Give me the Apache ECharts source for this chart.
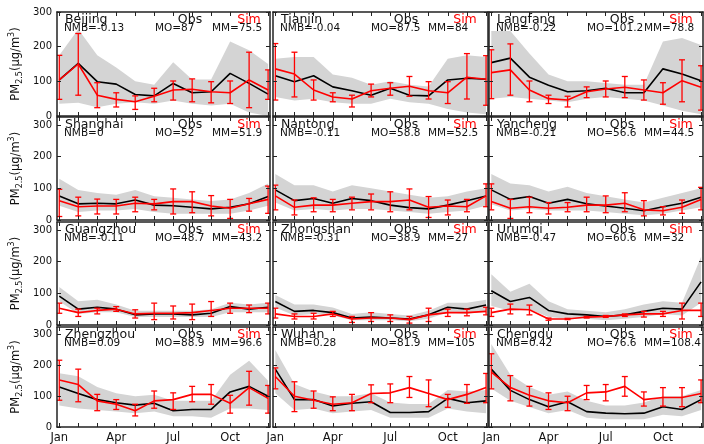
<!DOCTYPE html>
<html><head><meta charset="utf-8">
<script src="https://cdn.jsdelivr.net/npm/echarts@6/dist/echarts.min.js"></script>
<style>html,body{margin:0;padding:0;background:#fff}#c{width:704px;height:444px}</style>
</head><body><div id="c"></div>
<script>
// ---------------- data ----------------
const cities = ['Beijing','Tianjin','Langfang','Shanghai','Nantong','Yancheng','Guangzhou','Zhongshan','Urumqi','Zhengzhou','Wuhan','Chengdu'];
const nmbText = ['-0.13','-0.04','-0.22','0','-0.11','-0.21','-0.11','-0.31','-0.47','0.09','0.28','0.42'];
const moText = ['87','87.5','101.2','52','58.8','56.6','48.7','38.9','60.6','88.9','81.9','76.6'];
const mmText = ['75.5','84','78.8','51.9','52.5','44.5','43.2','27','32','96.6','105','108.4'];
const monthIndex = [0,1,2,3,4,5,6,7,8,9,10,11];
const monthTickLabels = {0:'Jan',3:'Apr',6:'Jul',9:'Oct'};
const yTickValues = [0,100,200,300];

const obsMean = [
 [104,152,99,92,62,58,94,67,70,123,94,63],
 [116,99,116,84,73,60,80,60,58,104,109,106],
 [154,167,112,89,70,73,80,67,67,136,121,102],
 [76,51,53,51,63,47,45,40,35,40,51,74],
 [95,61,68,53,68,61,47,39,35,47,61,76],
 [95,65,74,53,65,51,44,37,29,42,53,72],
 [91,50,56,50,32,35,35,32,37,58,50,56],
 [74,43,46,39,22,25,22,19,32,56,50,63],
 [108,74,87,46,35,32,27,32,43,53,50,136],
 [130,109,89,79,71,77,53,57,57,114,132,100],
 [188,89,89,68,77,82,47,47,50,93,79,85],
 [188,119,89,66,82,50,45,43,45,66,57,89]
];
const obsUpper = [
 [175,250,175,140,100,90,155,105,105,215,190,150],
 [165,170,170,120,110,90,100,90,85,165,175,170],
 [245,245,180,120,100,100,95,90,90,215,225,205],
 [130,95,85,80,95,75,70,65,60,65,85,115],
 [145,110,110,90,110,100,90,80,70,75,90,100],
 [145,115,110,90,105,85,75,65,55,70,85,100],
 [120,75,80,65,45,45,45,45,50,70,65,70],
 [95,65,65,55,35,40,35,30,45,70,70,80],
 [160,105,130,75,50,45,40,50,65,75,70,215],
 [175,165,130,110,100,105,85,85,85,170,215,150],
 [250,140,115,100,100,110,80,75,75,120,115,120],
 [270,170,130,105,115,85,70,70,80,100,100,120]
];
const obsLower = [
 [35,38,25,35,40,35,45,35,30,35,10,0],
 [55,45,50,40,35,35,50,40,35,20,10,5],
 [50,55,50,45,40,50,55,50,45,30,15,5],
 [45,25,30,30,35,25,20,20,20,20,30,45],
 [55,30,35,30,35,35,30,25,20,25,30,45],
 [50,30,35,30,30,30,25,20,15,20,30,40],
 [75,35,40,40,25,25,25,25,25,40,40,40],
 [55,30,35,30,15,15,15,12,20,40,35,45],
 [60,45,50,25,20,20,15,20,25,35,30,70],
 [70,60,55,50,45,50,35,35,30,60,60,55],
 [110,55,60,45,50,55,30,30,30,60,50,45],
 [125,85,65,45,55,30,25,25,25,40,35,55]
];
const simMean = [
 [104,150,60,48,41,57,75,77,70,67,104,75],
 [136,121,75,55,49,73,80,86,73,67,112,106],
 [125,133,75,50,46,70,78,83,75,67,102,83],
 [61,42,44,44,53,51,58,58,44,37,51,65],
 [76,40,47,47,53,58,58,63,40,44,42,76],
 [58,37,42,37,40,47,47,53,32,29,40,65],
 [53,39,46,50,35,37,37,39,46,53,53,53],
 [35,27,27,35,19,22,22,17,32,39,39,43],
 [39,50,48,19,19,25,27,32,35,35,46,46],
 [153,138,85,74,53,85,89,106,106,77,128,93],
 [164,100,87,74,79,109,111,128,109,89,106,128],
 [178,128,103,85,79,111,114,132,89,96,96,109]
];
const simHigh = [
 [175,238,96,67,58,80,101,107,99,101,184,133],
 [209,184,104,67,60,92,96,114,99,99,180,174],
 [191,208,101,60,57,84,101,114,104,96,162,145],
 [97,72,66,65,72,65,98,89,77,65,68,107],
 [110,63,70,65,72,82,89,98,74,63,65,114],
 [114,65,72,55,55,72,76,86,61,42,63,103],
 [69,50,53,58,48,69,60,66,74,69,63,69],
 [53,35,37,43,27,39,32,27,53,50,50,56],
 [53,66,63,22,21,27,30,35,43,43,69,69],
 [217,188,106,89,74,117,111,132,138,103,181,135],
 [192,147,117,98,106,137,140,164,153,106,138,174],
 [238,167,132,111,100,135,138,164,114,128,128,153]
];
const simLow = [
 [48,60,24,26,19,41,46,41,38,36,24,48],
 [46,55,46,41,26,55,60,57,49,36,49,31],
 [50,60,41,36,26,53,55,53,46,34,41,17],
 [11,13,19,19,26,32,19,23,13,5,28,21],
 [32,16,26,26,32,32,26,32,8,16,26,42],
 [32,5,23,19,26,26,23,26,13,16,21,32],
 [37,27,35,43,22,17,19,17,27,37,39,35],
 [22,19,19,27,8,11,11,6,11,27,29,32],
 [27,35,32,15,17,22,24,27,25,27,19,27],
 [87,82,53,57,36,61,57,82,74,45,71,45],
 [124,50,61,53,53,79,79,96,66,64,77,79],
 [124,85,68,57,53,89,85,100,68,68,66,79]
];

// ---------------- layout ----------------
const FONT = 'DejaVu Sans';
const colLeft = [57,273,489], colWidth = [213,215,214];
const rowTop = [12,117,222,327], rowHeight = [104,103,103,102], rowMax = [300,325,325,325];
const RED = '#ff0000';
const AX = '#222';

const grid = [], xAxis = [], yAxis = [], series = [], graphic = [];
const pairs = arr => monthIndex.map((m,k) => [m, arr[k]]);

function bandRender(params, api) {
  if (params.dataIndexInside !== 0) return null;
  const n = params.dataInsideLength;
  const top = [], bot = [];
  for (let j = 0; j < n; j++) {
    const x = api.value(0, j);
    bot.push(api.coord([x, api.value(1, j)]));
    top.push(api.coord([x, api.value(2, j)]));
  }
  return {type:'polygon', shape:{points: bot.concat(top.reverse())}, style:{fill:'#d4d4d4', stroke:null}};
}

for (let i = 0; i < cities.length; i++) {
  const r = Math.floor(i/3), c = i%3;
  const L = colLeft[c], T = rowTop[r];
  grid.push({left:L, top:T, width:colWidth[c], height:rowHeight[r], containLabel:false});
  const xCommon = {gridIndex:i, type:'value', min:-0.12, max:11.1, z:10,
    splitLine:{show:false},
    axisLine:{show:true, onZero:false, lineStyle:{color:AX, width:1.5}},
    axisTick:{show:true, inside:true, length:4, customValues:monthIndex, lineStyle:{color:AX, width:1}}};
  xAxis.push(Object.assign({}, xCommon, {position:'bottom',
    axisLabel:{show:r===3, customValues:[0,3,6,9], formatter:v => monthTickLabels[v] || '',
      fontFamily:FONT, fontSize:11.5, color:'#111', margin:5}}));
  xAxis.push(Object.assign({}, xCommon, {position:'top', axisLabel:{show:false}}));
  const yCommon = {gridIndex:i, type:'value', min:0, max:rowMax[r], z:10,
    splitLine:{show:false},
    axisLine:{show:true, onZero:false, lineStyle:{color:AX, width:1.5}},
    axisTick:{show:true, inside:true, length:4, customValues:yTickValues, lineStyle:{color:AX, width:1}}};
  const yLeft = Object.assign({}, yCommon, {position:'left',
    axisLabel:{show:c===0, customValues:yTickValues, fontFamily:FONT, fontSize:10, color:'#111', margin:5}});
  if (c === 0) {
    Object.assign(yLeft, {
      name:'{a|PM}{s|2.5}{a|(μg/m}{p|3}{a|)}', nameLocation:'middle', nameRotate:90, nameGap:33,
      nameTextStyle:{fontFamily:FONT, fontSize:11.5, color:'#111', rich:{
        a:{fontFamily:FONT, fontSize:11.5, color:'#111', lineHeight:16, verticalAlign:'middle'},
        s:{fontFamily:FONT, fontSize:8, color:'#111', lineHeight:16, verticalAlign:'bottom'},
        p:{fontFamily:FONT, fontSize:8, color:'#111', lineHeight:16, verticalAlign:'top'}
      }}
    });
  }
  yAxis.push(yLeft);
  yAxis.push(Object.assign({}, yCommon, {position:'right', axisLabel:{show:false}}));

  const xi = 2*i, yi = 2*i;
  series.push({type:'custom', xAxisIndex:xi, yAxisIndex:yi, z:1, animation:false, clip:true, silent:true,
    data: monthIndex.map((m,k) => [m, obsLower[i][k], obsUpper[i][k]]),
    encode:{x:0, y:[1,2]}, renderItem:bandRender});
  series.push({type:'line', xAxisIndex:xi, yAxisIndex:yi, data:pairs(obsMean[i]),
    symbol:'none', lineStyle:{color:'#000', width:1.6}, z:3, animation:false, clip:true});
  series.push({type:'line', xAxisIndex:xi, yAxisIndex:yi, data:pairs(simMean[i]),
    symbol:'none', lineStyle:{color:RED, width:1.6}, z:4, animation:false, clip:true});
  series.push({type:'custom', xAxisIndex:xi, yAxisIndex:yi, z:5, animation:false, clip:true,
    data: monthIndex.map((m,k) => [m, simLow[i][k], simHigh[i][k]]),
    encode:{x:0, y:[1,2]},
    renderItem:(params, api) => {
      const x = api.value(0);
      const p1 = api.coord([x, api.value(1)]), p2 = api.coord([x, api.value(2)]);
      const w = 3, st = {stroke:RED, lineWidth:1.3};
      return {type:'group', children:[
        {type:'line', shape:{x1:p1[0], y1:p1[1], x2:p2[0], y2:p2[1]}, style:st},
        {type:'line', shape:{x1:p1[0]-w, y1:p1[1], x2:p1[0]+w, y2:p1[1]}, style:st},
        {type:'line', shape:{x1:p2[0]-w, y1:p2[1], x2:p2[0]+w, y2:p2[1]}, style:st}
      ]};
    }});

  const big = {fontFamily:FONT, fontSize:12.5, fill:'#111', verticalAlign:'middle'};
  const small = {fontFamily:FONT, fontSize:10.5, fill:'#111', verticalAlign:'middle'};
  graphic.push({type:'text', x:L+8, y:T+7.5, z:20, style:Object.assign({text:cities[i], align:'left'}, big)});
  graphic.push({type:'text', x:L+133, y:T+7.5, z:20, style:Object.assign({text:'Obs', align:'center'}, big)});
  graphic.push({type:'text', x:L+192, y:T+7.5, z:20, style:Object.assign({text:'Sim', align:'center'}, big, {fill:RED})});
  graphic.push({type:'text', x:L+7, y:T+16.5, z:20, style:Object.assign({text:'NMB=' + nmbText[i], align:'left'}, small)});
  graphic.push({type:'text', x:L+98, y:T+16.5, z:20, style:Object.assign({text:'MO=' + moText[i], align:'left'}, small)});
  graphic.push({type:'text', x:L+155, y:T+16.5, z:20, style:Object.assign({text:'MM=' + mmText[i], align:'left'}, small)});
}

const chart = echarts.init(document.getElementById('c'), null, {renderer:'canvas'});
chart.setOption({animation:false, backgroundColor:'#fff', grid, xAxis, yAxis, series, graphic});
</script>
</body></html>
